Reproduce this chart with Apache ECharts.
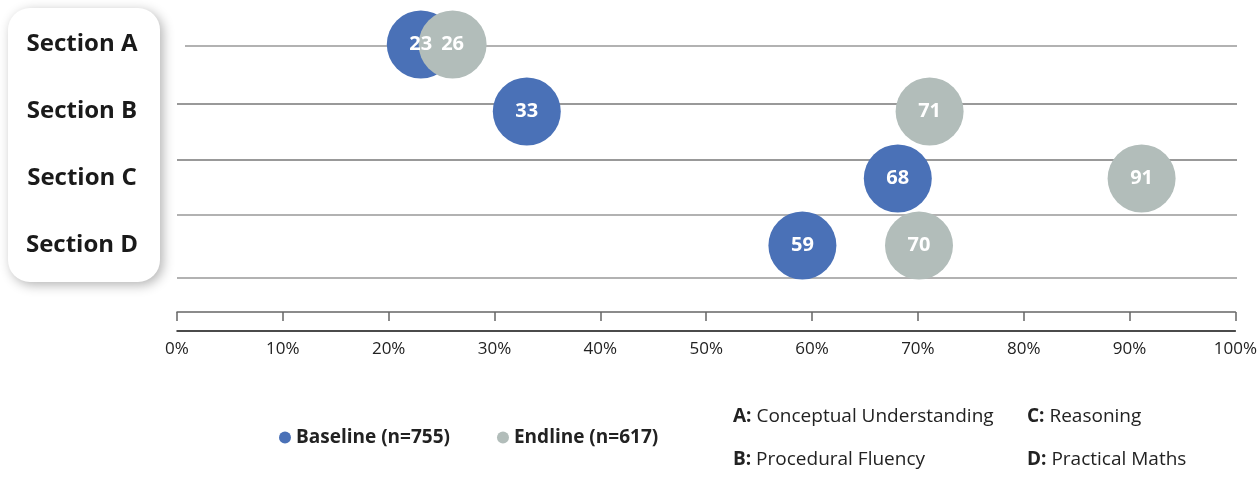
<!DOCTYPE html>
<html>
<head>
<meta charset="utf-8">
<script src="https://cdn.jsdelivr.net/npm/echarts@6/dist/echarts.min.js"></script>
<style>
  html, body { margin: 0; padding: 0; background: #fff; }
  #chart { width: 1260px; height: 477px; }
</style>
</head>
<body>
<div id="chart"></div>
<script>
// chart data
var sections = ['Section A', 'Section B', 'Section C', 'Section D'];
var baseline = [23, 33, 68, 59];
var endline = [26, 71, 91, 70];
var seriesNames = ['Baseline (n=755)', 'Endline (n=617)'];
var noteKeys = ['A', 'B', 'C', 'D'];
var noteTexts = ['Conceptual Understanding', 'Procedural Fluency', 'Reasoning', 'Practical Maths'];

var FONT = '"Open Sans", "Noto Sans", sans-serif';
var BLUE = '#4a71b7';
var GREY = '#b2bdba';

var chart = echarts.init(document.getElementById('chart'));

// horizontal row rules
var rules = [
    { y: 46, x1: 185, color: '#999' },
    { y: 104, x1: 177, color: '#777' },
    { y: 160, x1: 177, color: '#777' },
    { y: 215, x1: 177, color: '#999' },
    { y: 278, x1: 177, color: '#999' }
];
var graphics = [{
    type: 'rect',
    z: -1,
    shape: { x: 8, y: 8, width: 152, height: 274, r: 22 },
    style: {
        fill: '#fff',
        shadowBlur: 12,
        shadowOffsetX: 3,
        shadowOffsetY: 3,
        shadowColor: 'rgba(0,0,0,0.3)'
    }
}];
rules.forEach(function (r) {
    graphics.push({
        type: 'line',
        z: -1,
        shape: { x1: r.x1, y1: r.y, x2: 1237, y2: r.y },
        style: { stroke: r.color, lineWidth: 1.5 }
    });
});
// key notes, two columns
noteKeys.forEach(function (k, i) {
    graphics.push({
        type: 'text',
        left: i < 2 ? 733 : 1027,
        top: i % 2 === 0 ? 407 : 450,
        style: {
            text: '{b|' + k + ':} ' + noteTexts[i],
            font: '19px ' + FONT,
            fill: '#222',
            rich: { b: { fontWeight: 'bold', fontSize: 19, fontFamily: FONT, color: '#222' } }
        }
    });
});

chart.setOption({
    animation: false,
    textStyle: { fontFamily: FONT },
    grid: [
        { left: 177, right: 23, top: 11, height: 268 },
        { left: 177, right: 23, top: 330, height: 1 }
    ],
    graphic: graphics,
    legend: {
        data: seriesNames,
        left: 274,
        top: 423,
        icon: 'circle',
        itemWidth: 12,
        itemHeight: 12,
        itemGap: 47,
        textStyle: { fontSize: 19, fontWeight: 'bold', color: '#222', fontFamily: FONT }
    },
    xAxis: [{
        gridIndex: 0,
        type: 'value',
        min: 0,
        max: 100,
        show: false
    }, {
        gridIndex: 1,
        type: 'value',
        min: 0,
        max: 100,
        interval: 10,
        position: 'bottom',
        axisLine: { show: true, lineStyle: { color: '#111', width: 1.5 } },
        axisTick: { show: false },
        splitLine: { show: false },
        axisLabel: { formatter: '{value}%', fontSize: 17, color: '#222', margin: 10 }
    }, {
        gridIndex: 1,
        type: 'value',
        min: 0,
        max: 100,
        interval: 10,
        position: 'bottom',
        offset: -19,
        axisLine: { show: true, lineStyle: { color: '#666', width: 1.5 } },
        axisTick: { show: true, length: 9, lineStyle: { color: '#666', width: 1.5 } },
        splitLine: { show: false },
        axisLabel: { show: false }
    }],
    yAxis: [{
        gridIndex: 0,
        type: 'category',
        data: sections,
        inverse: true,
        axisLine: { show: false },
        axisTick: { show: false },
        splitLine: { show: false },
        axisLabel: {
            align: 'center',
            margin: 95,
            fontSize: 24,
            fontWeight: 'bold',
            color: '#1a1a1a',
            padding: [0, 0, 7, 0]
        }
    }, {
        gridIndex: 1,
        type: 'value',
        show: false
    }],
    series: [{
        name: seriesNames[0],
        type: 'scatter',
        xAxisIndex: 0,
        yAxisIndex: 0,
        symbolSize: 68,
        itemStyle: { color: BLUE, opacity: 1 },
        label: { show: true, position: 'inside', color: '#fff', fontSize: 20, fontWeight: 'bold',
            formatter: function (p) { return p.value[0]; } },
        data: baseline.map(function (v, i) { return [v, i]; })
    }, {
        name: seriesNames[1],
        type: 'scatter',
        xAxisIndex: 0,
        yAxisIndex: 0,
        symbolSize: 68,
        itemStyle: { color: GREY, opacity: 1 },
        label: { show: true, position: 'inside', color: '#fff', fontSize: 20, fontWeight: 'bold',
            formatter: function (p) { return p.value[0]; } },
        data: endline.map(function (v, i) { return [v, i]; })
    }]
});
</script>
</body>
</html>
